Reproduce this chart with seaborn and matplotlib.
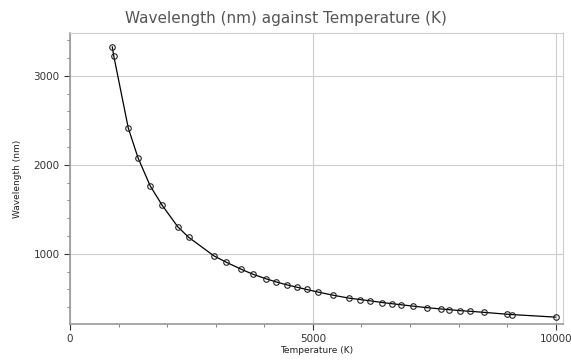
import numpy as np
import pandas as pd
import matplotlib
matplotlib.use('Agg')
import matplotlib.pyplot as plt
import seaborn as sns
from matplotlib.ticker import MultipleLocator

# temperature (K) and peak wavelength (nm)
temperature = [870, 900, 1200, 1400, 1650, 1900, 2220, 2440, 2960, 3220,
               3520, 3760, 4040, 4240, 4460, 4680, 4870, 5110, 5410, 5750,
               5970, 6180, 6430, 6630, 6820, 7070, 7340, 7630, 7810, 8030,
               8230, 8520, 8990, 9100, 10000]
wavelength = [3326, 3225, 2412, 2079, 1764, 1543, 1303, 1187, 978, 905,
              828, 772, 719, 685, 652, 624, 600, 570, 536, 502,
              487, 472, 453, 440, 428, 412, 396, 381, 373, 362,
              355, 343, 322, 318, 289]

data = pd.DataFrame({'Temperature': temperature, 'Wavelength': wavelength})

sns.set_style('white')
plt.rcParams['font.family'] = ['DejaVu Sans']

fig = plt.figure(figsize=(5.71, 3.61), dpi=100)
ax = fig.add_axes([0.1226, 0.1025, 0.8634, 0.8061])

sns.lineplot(data=data, x='Temperature', y='Wavelength', ax=ax,
             color='black', linewidth=0.9, marker='o', markersize=4,
             markerfacecolor='none', markeredgecolor='#222222', markeredgewidth=0.8)

ax.set_xlim(0, 10150)
ax.set_ylim(212, 3480)
ax.xaxis.set_major_locator(MultipleLocator(5000))
ax.xaxis.set_minor_locator(MultipleLocator(1000))
ax.yaxis.set_major_locator(MultipleLocator(1000))
ax.yaxis.set_minor_locator(MultipleLocator(200))
ax.grid(True, which='major', color='#cccccc', linewidth=0.8)

for side in ['top', 'right']:
    ax.spines[side].set_color('#cccccc')
    ax.spines[side].set_linewidth(0.8)
for side in ['left', 'bottom']:
    ax.spines[side].set_color('#999999')
    ax.spines[side].set_linewidth(1.2)

ax.tick_params(which='major', direction='out', length=4, width=0.8,
               colors='#333333', labelsize=7.5, bottom=True, left=True)
ax.tick_params(which='minor', direction='out', length=2.5, width=0.5,
               colors='#555555', bottom=True, left=True)

ax.set_xlabel('Temperature (K)', fontsize=6.5, color='#222222', labelpad=1)
ax.set_ylabel('Wavelength (nm)', fontsize=6.5, color='#222222', labelpad=8)
fig.suptitle('Wavelength (nm) against Temperature (K)', fontsize=11,
             color='#555555', y=0.97)

fig.savefig('out.png', dpi=100)
